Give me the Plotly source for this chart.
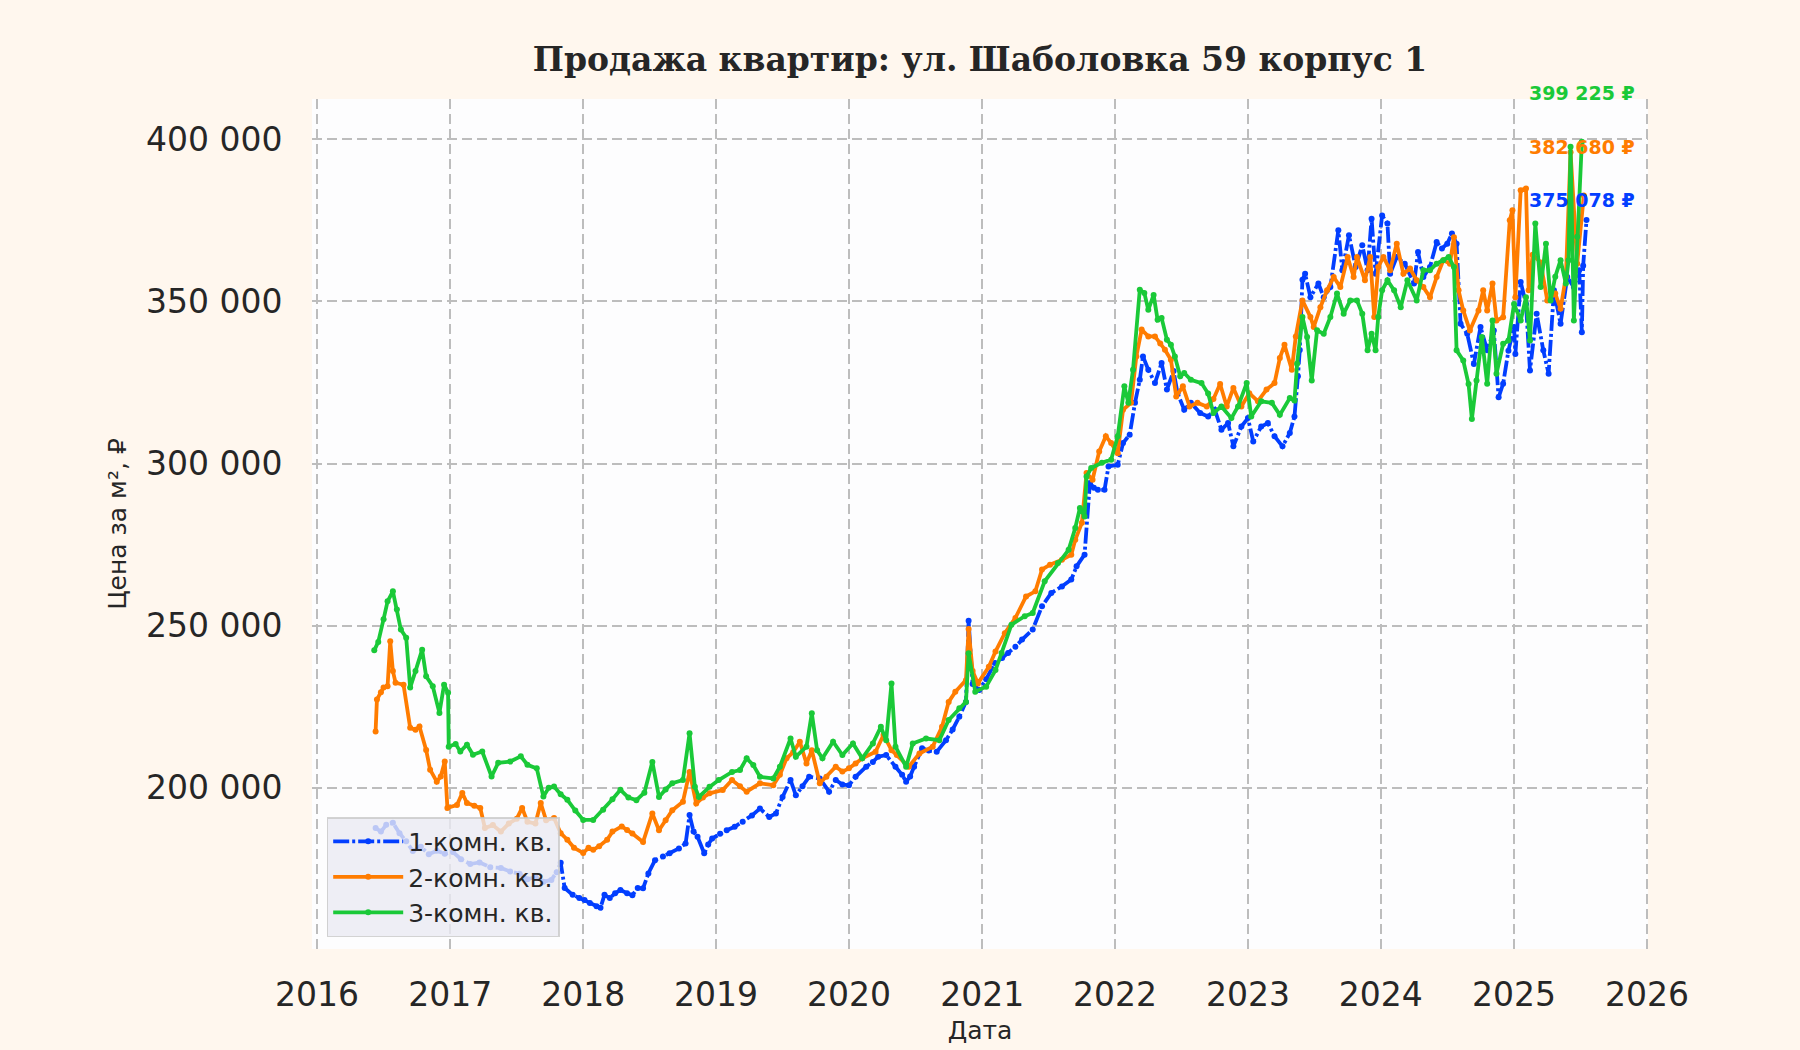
import pandas as pd
import plotly.graph_objects as go

# даты в долях года, цены за м2
years_1k = [2016.44, 2016.48, 2016.52, 2016.57, 2016.62, 2016.67, 2016.72, 2016.78, 2016.84, 2016.90,
            2016.96, 2017.02, 2017.08, 2017.15, 2017.22, 2017.30, 2017.38, 2017.45, 2017.52, 2017.58,
            2017.64, 2017.70, 2017.76, 2017.80, 2017.83, 2017.86, 2017.92, 2017.97, 2018.01, 2018.05,
            2018.10, 2018.13, 2018.16, 2018.20, 2018.24, 2018.28, 2018.33, 2018.37, 2018.41, 2018.45,
            2018.49, 2018.54, 2018.60, 2018.65, 2018.72, 2018.77, 2018.80, 2018.83, 2018.86, 2018.91,
            2018.94, 2018.97, 2019.03, 2019.08, 2019.14, 2019.20, 2019.27, 2019.33, 2019.40, 2019.45,
            2019.50, 2019.56, 2019.60, 2019.65, 2019.70, 2019.78, 2019.85, 2019.90, 2019.95, 2020.00,
            2020.05, 2020.13, 2020.18, 2020.22, 2020.28, 2020.35, 2020.40, 2020.43, 2020.46, 2020.49,
            2020.55, 2020.60, 2020.66, 2020.73, 2020.78, 2020.83, 2020.88, 2020.90, 2020.93, 2020.98,
            2021.03, 2021.095, 2021.15, 2021.195, 2021.25, 2021.30, 2021.38, 2021.45, 2021.52, 2021.60,
            2021.67, 2021.71, 2021.77, 2021.81, 2021.84, 2021.87, 2021.92, 2021.95, 2022.02, 2022.06,
            2022.11, 2022.15, 2022.186, 2022.21, 2022.25, 2022.30, 2022.35, 2022.39, 2022.44, 2022.47,
            2022.52, 2022.57, 2022.64, 2022.70, 2022.75, 2022.80, 2022.85, 2022.89, 2022.95, 2023.00,
            2023.04, 2023.10, 2023.15, 2023.20, 2023.26, 2023.315, 2023.35, 2023.376, 2023.39, 2023.41,
            2023.43, 2023.47, 2023.53, 2023.57, 2023.62, 2023.68, 2023.71, 2023.76, 2023.81, 2023.86,
            2023.90, 2023.93, 2023.96, 2024.01, 2024.05, 2024.07, 2024.12, 2024.18, 2024.25, 2024.28,
            2024.32, 2024.37, 2024.42, 2024.46, 2024.50, 2024.535, 2024.57, 2024.60, 2024.65, 2024.70,
            2024.75, 2024.80, 2024.85, 2024.886, 2024.92, 2024.96, 2025.00, 2025.01, 2025.05, 2025.09,
            2025.12, 2025.17, 2025.22, 2025.26, 2025.30, 2025.35, 2025.40, 2025.45, 2025.49, 2025.51,
            2025.52, 2025.545]
price_1k = [187600, 186500, 188600, 189200, 186000, 183500, 180500, 181800, 179500, 180600,
            179700, 180200, 178000, 176500, 177000, 175500, 175300, 174200, 173500, 171800,
            172500, 171000, 171600, 174000, 176900, 169100, 167000, 166000, 165400, 164500,
            163500, 163000, 167000, 166000, 167500, 168500, 167500, 166900, 169100, 169000,
            173600, 177700, 178800, 179800, 181300, 182800, 191600, 186500, 184900, 179800,
            182500, 184400, 185800, 186900, 188000, 189500, 191500, 193600, 191000, 192100,
            197200, 202400, 197700, 200500, 203400, 202900, 198800, 202400, 201000, 200800,
            203400, 206500, 208000, 209600, 210100, 206500, 204000, 201900, 203500, 206500,
            212200, 211500, 211100, 214700, 218000, 221900, 226500, 251500, 232000, 230200,
            233500, 238500, 240000, 241600, 243500, 245700, 248800, 256000, 260100, 262100,
            264200, 268300, 271900, 294000, 292500, 291900, 291900, 299100, 299600, 306300,
            308900, 318700, 325800, 333000, 328900, 324800, 331000, 322800, 328500, 321700,
            316600, 318700, 315600, 314500, 316600, 310400, 312500, 305300, 311400, 314000,
            306800, 311400, 312500, 308400, 305300, 309400, 314500, 326900, 335000, 356700,
            358500, 351300, 355500, 351300, 354400, 371900, 359600, 370400, 360600, 367300,
            359600, 375500, 358500, 376500, 374000, 358500, 363700, 361600, 355500, 365200,
            357500, 360600, 368300, 366300, 367800, 370900, 367800, 343100, 340000, 330700,
            342100, 334900, 341000, 320400, 324600, 334800, 342100, 333800, 356000, 349200,
            328700, 346200, 334900, 327700, 353400, 343100, 357500, 354400, 359600, 340500,
            361000, 375078]

years_2k = [2016.44, 2016.45, 2016.48, 2016.50, 2016.53, 2016.55, 2016.57, 2016.59, 2016.65, 2016.70,
            2016.74, 2016.77, 2016.82, 2016.85, 2016.90, 2016.93, 2016.96, 2016.98, 2017.05, 2017.09,
            2017.125, 2017.18, 2017.225, 2017.26, 2017.32, 2017.38, 2017.44, 2017.50, 2017.54, 2017.58,
            2017.64, 2017.68, 2017.72, 2017.78, 2017.83, 2017.88, 2017.93, 2018.00, 2018.04, 2018.075,
            2018.12, 2018.18, 2018.22, 2018.29, 2018.33, 2018.37, 2018.45, 2018.52, 2018.57, 2018.62,
            2018.67, 2018.75, 2018.80, 2018.85, 2018.90, 2018.95, 2019.05, 2019.12, 2019.18, 2019.23,
            2019.33, 2019.43, 2019.48, 2019.53, 2019.58, 2019.63, 2019.68, 2019.72, 2019.78, 2019.83,
            2019.90, 2019.95, 2020.00, 2020.05, 2020.10, 2020.20, 2020.26, 2020.32, 2020.36, 2020.45,
            2020.53, 2020.63, 2020.70, 2020.75, 2020.80, 2020.88, 2020.90, 2020.93, 2020.97, 2021.05,
            2021.10, 2021.17, 2021.25, 2021.33, 2021.40, 2021.45, 2021.51, 2021.60, 2021.67, 2021.70,
            2021.75, 2021.785, 2021.83, 2021.88, 2021.93, 2021.97, 2022.02, 2022.06, 2022.12, 2022.16,
            2022.20, 2022.25, 2022.30, 2022.34, 2022.375, 2022.42, 2022.46, 2022.51, 2022.56, 2022.62,
            2022.69, 2022.74, 2022.79, 2022.84, 2022.89, 2022.95, 2023.01, 2023.075, 2023.14, 2023.20,
            2023.24, 2023.275, 2023.33, 2023.36, 2023.41, 2023.47, 2023.495, 2023.545, 2023.595, 2023.645,
            2023.695, 2023.75, 2023.795, 2023.82, 2023.88, 2023.92, 2023.95, 2023.98, 2024.02, 2024.07,
            2024.12, 2024.17, 2024.22, 2024.27, 2024.32, 2024.37, 2024.42, 2024.47, 2024.52, 2024.55,
            2024.585, 2024.62, 2024.67, 2024.735, 2024.77, 2024.80, 2024.84, 2024.87, 2024.92, 2024.97,
            2024.99, 2025.01, 2025.05, 2025.09, 2025.11, 2025.14, 2025.20, 2025.25, 2025.31, 2025.35,
            2025.39, 2025.425, 2025.475, 2025.525]
price_2k = [217400, 227200, 229500, 230900, 231300, 245200, 236000, 232400, 231800, 218500,
            217900, 218900, 211700, 205600, 201900, 203500, 208100, 193800, 194700, 198400,
            195300, 194500, 193800, 187600, 188500, 186500, 189000, 190500, 193800, 189500,
            189000, 195300, 190000, 190700, 186000, 184000, 181500, 179900, 181500, 180900,
            182000, 184000, 186500, 188100, 187000, 185900, 183300, 192100, 186900, 190000,
            193100, 195700, 204900, 195200, 197000, 198300, 199300, 202400, 200500, 198800,
            201400, 200800, 204000, 209100, 211000, 214200, 207500, 211600, 201400, 203400,
            206500, 205000, 206000, 207500, 209100, 211100, 216300, 211600, 210100, 206500,
            210600, 212700, 218800, 226500, 229600, 233200, 249000, 236000, 232200, 237300,
            242000, 247700, 252400, 259000, 260600, 267300, 268800, 270300, 271900, 276500,
            281700, 297100, 295000, 303700, 308400, 306300, 303200, 316600, 318700, 333000,
            341300, 339200, 339200, 337000, 335100, 332000, 320700, 323800, 317600, 318700,
            317600, 319900, 324500, 317600, 323300, 317600, 321700, 319200, 322800, 324800,
            332500, 336600, 328900, 339200, 350300, 345200, 342100, 348200, 353400, 357500,
            354400, 363700, 357500, 363700, 356500, 363700, 345200, 360600, 363700, 359600,
            367800, 358500, 360100, 356500, 354400, 351300, 357500, 362700, 361600, 369800,
            353400, 347200, 341000, 347200, 353400, 347200, 355500, 344100, 345100, 375000,
            378100, 351300, 384300, 384800, 353400, 364400, 362000, 350300, 352400, 347700,
            357600, 396000, 361600, 382680]

years_3k = [2016.43, 2016.46, 2016.50, 2016.53, 2016.57, 2016.60, 2016.63, 2016.67, 2016.70, 2016.74,
            2016.79, 2016.82, 2016.87, 2016.92, 2016.955, 2016.985, 2016.99, 2017.04, 2017.075, 2017.125,
            2017.17, 2017.24, 2017.31, 2017.36, 2017.45, 2017.53, 2017.58, 2017.65, 2017.70, 2017.74,
            2017.78, 2017.83, 2017.88, 2017.94, 2018.00, 2018.075, 2018.15, 2018.22, 2018.28, 2018.34,
            2018.40, 2018.46, 2018.52, 2018.57, 2018.62, 2018.67, 2018.75, 2018.80, 2018.84, 2018.87,
            2018.95, 2019.02, 2019.12, 2019.18, 2019.23, 2019.28, 2019.33, 2019.43, 2019.48, 2019.56,
            2019.60, 2019.68, 2019.72, 2019.76, 2019.80, 2019.88, 2019.95, 2020.03, 2020.10, 2020.18,
            2020.24, 2020.28, 2020.32, 2020.35, 2020.43, 2020.48, 2020.58, 2020.68, 2020.75, 2020.83,
            2020.88, 2020.90, 2020.95, 2021.03, 2021.10, 2021.146, 2021.22, 2021.32, 2021.38, 2021.47,
            2021.57, 2021.65, 2021.70, 2021.735, 2021.77, 2021.785, 2021.82, 2021.90, 2021.97, 2022.02,
            2022.07, 2022.10, 2022.135, 2022.186, 2022.22, 2022.25, 2022.29, 2022.32, 2022.35, 2022.39,
            2022.42, 2022.45, 2022.49, 2022.52, 2022.57, 2022.65, 2022.70, 2022.74, 2022.80, 2022.875,
            2022.925, 2022.99, 2023.025, 2023.10, 2023.18, 2023.24, 2023.315, 2023.35, 2023.37, 2023.41,
            2023.445, 2023.48, 2023.52, 2023.57, 2023.62, 2023.67, 2023.72, 2023.77, 2023.82, 2023.86,
            2023.90, 2023.93, 2023.96, 2023.98, 2024.01, 2024.05, 2024.10, 2024.15, 2024.20, 2024.27,
            2024.32, 2024.37, 2024.42, 2024.47, 2024.51, 2024.55, 2024.57, 2024.62, 2024.66, 2024.685,
            2024.72, 2024.76, 2024.80, 2024.84, 2024.87, 2024.92, 2024.96, 2025.00, 2025.05, 2025.09,
            2025.12, 2025.16, 2025.20, 2025.24, 2025.275, 2025.31, 2025.35, 2025.39, 2025.41, 2025.425,
            2025.45, 2025.475, 2025.51]
price_3k = [242400, 245000, 252000, 257500, 260600, 255000, 248800, 246300, 230900, 236000,
            242600, 234400, 231300, 223100, 231800, 229300, 212700, 213500, 211200, 213300,
            210200, 211200, 203500, 207700, 208100, 209700, 207100, 206000, 197300, 200000,
            200400, 198000, 196300, 193000, 190100, 190100, 193200, 196500, 199400, 197000,
            196200, 198500, 208000, 197200, 199500, 201400, 202400, 216800, 200300, 197200,
            200300, 202400, 204900, 205500, 209100, 207000, 203400, 202900, 206500, 215200,
            209600, 212700, 223000, 211600, 209100, 214200, 210100, 213700, 209100, 213700,
            218800, 214700, 232200, 212700, 206500, 213700, 215200, 214700, 220900, 224500,
            226500, 241500, 229600, 231200, 236300, 241600, 250300, 252900, 253900, 263700,
            269300, 273400, 280100, 286300, 283700, 296000, 298600, 300200, 301200, 308400,
            323800, 318700, 328900, 353600, 352600, 347400, 352000, 344300, 344900, 338200,
            336600, 333000, 326900, 327900, 325800, 324800, 321600, 315600, 317600, 314000,
            317600, 324800, 314500, 319200, 318700, 315000, 320200, 319400, 330800, 345200,
            339000, 325600, 341100, 340000, 345200, 352400, 346200, 350300, 350300, 346200,
            334900, 340000, 334900, 345200, 353400, 356500, 353400, 348200, 356500, 350300,
            359600, 359600, 361600, 362700, 363700, 360600, 334900, 331800, 324500, 313700,
            325600, 339000, 324600, 344100, 327700, 336900, 337900, 349200, 344100, 351300,
            337900, 374000, 354400, 367800, 350300, 357600, 362700, 355500, 362700, 397700,
            344100, 369900, 399225]

series_names = ["1-комн. кв.", "2-комн. кв.", "3-комн. кв."]
colors = ["#023eff", "#ff7c00", "#1ac938"]
y_ticks = [200000, 250000, 300000, 350000, 400000]


def to_dates(years):
    return [pd.Timestamp(int(y), 1, 1) + pd.Timedelta(days=(y - int(y)) * 365.25) for y in years]


fig = go.Figure()
all_series = [(years_1k, price_1k), (years_2k, price_2k), (years_3k, price_3k)]
dashes = ["16px,3px,3px,3px", "solid", "solid"]
for (yrs, prices), name, color, dash in zip(all_series, series_names, colors, dashes):
    fig.add_scatter(x=to_dates(yrs), y=prices, name=name, mode="lines+markers",
                    line=dict(color=color, width=3.8, dash=dash),
                    marker=dict(color=color, size=6))

# подписи последних значений
label_y = [0.881, 0.9435, 1.007]
for prices, color, ly in zip([price_1k, price_2k, price_3k], colors, label_y):
    fig.add_annotation(xref="paper", yref="paper", x=0.992, y=ly, xanchor="right", yanchor="middle",
                       text=f"{prices[-1]:,}".replace(",", " ") + " ₽", showarrow=False,
                       font=dict(family="DejaVu Sans", size=19, color=color, weight="bold"))

fig.update_layout(
    width=1800, height=1050,
    paper_bgcolor="#fff7ee", plot_bgcolor="#fdfdfe",
    margin=dict(l=312, r=152, t=99, b=101),
    separators=", ",
    font=dict(family="DejaVu Sans", color="#262626"),
    title=dict(text="Продажа квартир: ул. Шаболовка 59 корпус 1", x=0.5, xref="paper",
               y=1 - 59 / 1050, yref="container", yanchor="middle",
               font=dict(family="DejaVu Serif", size=33, color="#262626", weight="bold")),
    legend=dict(x=0.011, y=0.014, xanchor="left", yanchor="bottom",
                bgcolor="rgba(234,234,242,0.8)", bordercolor="rgba(200,200,200,0.8)", borderwidth=1.5,
                font=dict(size=25, color="#262626"), tracegroupgap=0, itemwidth=70),
    showlegend=True,
)
fig.update_xaxes(type="date", range=["2015-12-18", "2026-01-04"], dtick="M12", tick0="2016-01-01",
                 tickformat="%Y", tickfont=dict(size=33), ticks="outside", ticklen=16,
                 tickcolor="rgba(0,0,0,0)", showgrid=True, gridcolor="#bdbdbd", gridwidth=2,
                 griddash="10px,5px", zeroline=False, showline=False,
                 title=dict(text="Дата", font=dict(size=25), standoff=8))
fig.update_yaxes(range=[150300, 412400], tickvals=y_ticks, tickformat=",d", tickfont=dict(size=33),
                 ticks="outside", ticklen=22, tickcolor="rgba(0,0,0,0)", showgrid=True,
                 gridcolor="#bdbdbd", gridwidth=2, griddash="10px,5px", zeroline=False, showline=False,
                 title=dict(text="Цена за м², ₽", font=dict(size=25), standoff=12))

fig.write_html("out.html", config={"displayModeBar": False},
               post_script="document.body.style.margin='0';"
                           "document.body.style.background='#fff7ee';")
